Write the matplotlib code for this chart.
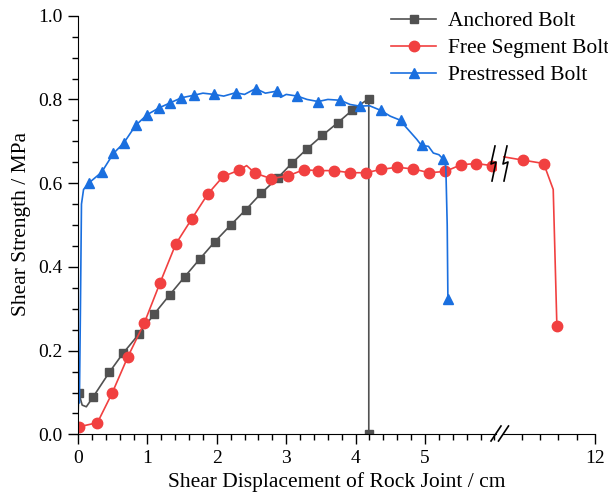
import matplotlib
matplotlib.use('Agg')
import matplotlib.pyplot as plt
from matplotlib.lines import Line2D
from matplotlib.ticker import MultipleLocator, FixedLocator

plt.rcParams['font.family'] = ['Liberation Serif', 'DejaVu Serif']

# ---- data ----
# Anchored Bolt
anch_x = [0.0, 0.01, 0.06, 0.12, 0.22, 0.45, 0.65, 0.88, 1.10, 1.32, 1.54, 1.76,
          1.97, 2.20, 2.42, 2.64, 2.88, 3.09, 3.30, 3.52, 3.74, 3.95, 4.19, 4.19]
anch_y = [0.04, 0.10, 0.07, 0.066, 0.09, 0.148, 0.194, 0.240, 0.288, 0.333, 0.377, 0.420,
          0.460, 0.500, 0.537, 0.576, 0.613, 0.649, 0.682, 0.714, 0.744, 0.774, 0.802, 0.0]
anch_marks = [1] + list(range(4, 24))

# Free Segment Bolt, before the axis break
free_x = [0.01, 0.28, 0.49, 0.72, 0.955, 1.18, 1.41, 1.64, 1.87, 2.09, 2.32, 2.43,
          2.55, 2.78, 3.02, 3.25, 3.46, 3.69, 3.92, 4.15, 4.37, 4.60, 4.83, 5.06,
          5.29, 5.52, 5.74, 5.96, 6.05]
free_y = [0.018, 0.028, 0.098, 0.186, 0.266, 0.361, 0.455, 0.515, 0.574, 0.616, 0.631, 0.642,
          0.624, 0.611, 0.617, 0.632, 0.630, 0.630, 0.625, 0.625, 0.633, 0.638, 0.634, 0.625,
          0.628, 0.644, 0.647, 0.642, 0.645]
free_marks = [i for i in range(len(free_x)) if i not in (11, 28)]

# Free Segment Bolt, after the axis break
free2_x = [10.75, 11.02, 11.30, 11.43, 11.48]
free2_y = [0.663, 0.655, 0.647, 0.585, 0.259]
free2_marks = [1, 2, 4]

# Prestressed Bolt
pre_x = [0.0, 0.02, 0.035, 0.05, 0.08, 0.16, 0.34, 0.51, 0.66, 0.83, 1.00, 1.17,
         1.33, 1.49, 1.67, 1.80, 1.96, 2.10, 2.27, 2.40, 2.56, 2.70, 2.87, 2.92,
         3.00, 3.16, 3.30, 3.46, 3.60, 3.78, 3.92, 4.06, 4.20, 4.36, 4.50, 4.65,
         4.72, 4.80, 4.88, 4.95, 5.05, 5.12, 5.20, 5.26, 5.30, 5.32, 5.33]
pre_y = [0.095, 0.075, 0.30, 0.55, 0.585, 0.601, 0.626, 0.671, 0.696, 0.738, 0.764, 0.780,
         0.792, 0.804, 0.810, 0.815, 0.812, 0.808, 0.816, 0.812, 0.826, 0.815, 0.820, 0.805,
         0.812, 0.808, 0.800, 0.795, 0.800, 0.798, 0.788, 0.784, 0.785, 0.774, 0.760, 0.750,
         0.735, 0.720, 0.705, 0.690, 0.688, 0.672, 0.668, 0.658, 0.640, 0.500, 0.324]
pre_marks = [5, 6, 7, 8, 9, 10, 11, 12, 13, 14, 16, 18, 20, 22, 25, 27, 29, 31,
             33, 35, 39, 43, 46]

x_major_left = [0, 1, 2, 3, 4, 5]
x_minor_right = [11.0, 11.25, 11.5, 11.75]

grey = '#515151'
red = '#F14040'
blue = '#1A6FDF'

W, H = 608, 495


def fx(px):
    return px / W


def fy(py):
    return 1 - py / H


fig = plt.figure(figsize=(6.08, 4.95), dpi=100)
bottom = fy(434.4)
height = (434.4 - 15.7) / H
ax1 = fig.add_axes([fx(78), bottom, fx(496) - fx(78), height])
ax2 = fig.add_axes([fx(503), bottom, fx(595) - fx(503), height])

lw = 1.2
ax1.plot(anch_x, anch_y, color=grey, lw=lw, marker='s', ms=6, markevery=anch_marks,
         label='Anchored Bolt')
ax1.plot(free_x, free_y, color=red, lw=lw, marker='o', ms=7.5, markevery=free_marks,
         label='Free Segment Bolt')
ax1.plot(pre_x, pre_y, color=blue, lw=lw, marker='^', ms=7.5, markevery=pre_marks,
         label='Prestressed Bolt')
ax2.plot(free2_x, free2_y, color=red, lw=lw, marker='o', ms=7.5, markevery=free2_marks)

ax1.set_xlim(0, (496 - 78) / 69.4)
ax1.set_ylim(0, 1.0)
ax2.set_xlim(12 - 92 / 73.3, 12)
ax2.set_ylim(0, 1.0)

for ax in (ax1, ax2):
    ax.spines['top'].set_visible(False)
    ax.spines['right'].set_visible(False)
    ax.tick_params(axis='both', which='major', direction='out', length=7, width=1,
                   labelsize=14, pad=4)
    ax.tick_params(axis='both', which='minor', direction='out', length=4, width=1)
    ax.patch.set_alpha(0)

ax1.xaxis.set_major_locator(FixedLocator(x_major_left))
ax1.xaxis.set_minor_locator(MultipleLocator(0.2))
ax1.yaxis.set_major_locator(MultipleLocator(0.2))
ax1.yaxis.set_minor_locator(MultipleLocator(0.05))
ax1.yaxis.set_major_formatter(plt.FuncFormatter(lambda v, p: f'{v:.1f}'))

ax2.spines['left'].set_visible(False)
ax2.set_yticks([])
ax2.xaxis.set_major_locator(FixedLocator([12]))
ax2.xaxis.set_minor_locator(FixedLocator(x_minor_right))
ax2.set_xticklabels(['12'])

# axis break marks on the x axis
for x0 in (491, 498.5):
    fig.add_artist(Line2D([fx(x0), fx(x0 + 10)], [fy(441), fy(426)], color='black', lw=1.2))

# break symbol on the red curve
for x0 in (494, 506):
    zx = [x0 + 1, x0 - 3, x0 + 2, x0 - 2]
    zy = [146, 164, 162, 181]
    fig.add_artist(Line2D([fx(v) for v in zx], [fy(v) for v in zy], color='black', lw=1.2))

fig.text(fx(336.5), fy(482), 'Shear Displacement of Rock Joint / cm', ha='center',
         va='center', fontsize=15.5)
fig.text(fx(22), fy(224), 'Shear Strength / MPa', ha='center', va='center',
         rotation=90, fontsize=15.5)

fig.legend(loc='upper left', bbox_to_anchor=(fx(391), fy(11)), frameon=False,
           fontsize=15.5, borderpad=0, borderaxespad=0, handlelength=2.1,
           handletextpad=0.55, labelspacing=0.33)

fig.savefig('out.png', dpi=100)
